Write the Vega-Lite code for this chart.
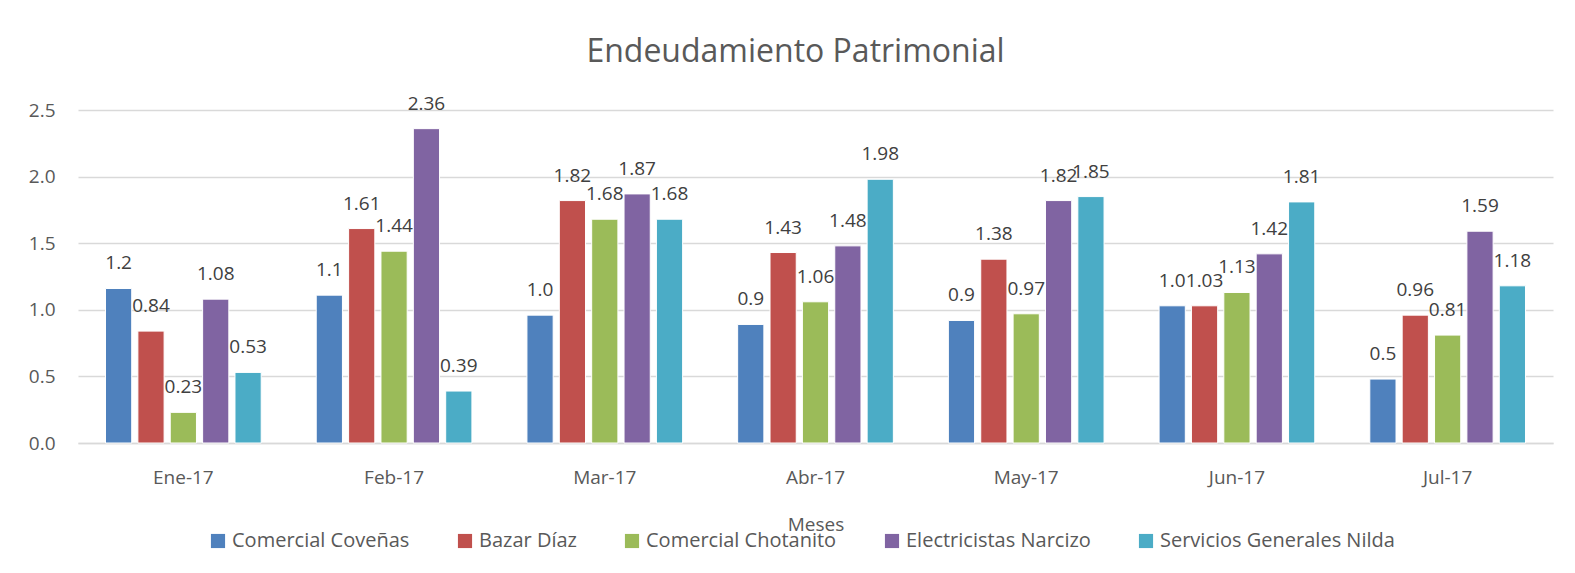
{
  "$schema": "https://vega.github.io/schema/vega-lite/v6.json",
  "width": 1475,
  "height": 333,
  "autosize": {"type": "none"},
  "padding": {"left": 78, "top": 110, "right": 22, "bottom": 130},
  "background": "white",
  "title": {"text": "Endeudamiento Patrimonial", "fontSize": 32, "font": "Open Sans", "fontWeight": "normal", "color": "#595959", "anchor": "middle", "offset": 26, "dx": -20},
  "data": {"values": [
    {"mes": "Ene-17", "empresa": "Comercial Coveñas", "valor": 1.16, "etiqueta": "1.2"},
    {"mes": "Ene-17", "empresa": "Bazar Díaz", "valor": 0.84, "etiqueta": "0.84"},
    {"mes": "Ene-17", "empresa": "Comercial Chotanito", "valor": 0.23, "etiqueta": "0.23"},
    {"mes": "Ene-17", "empresa": "Electricistas Narcizo", "valor": 1.08, "etiqueta": "1.08"},
    {"mes": "Ene-17", "empresa": "Servicios Generales Nilda", "valor": 0.53, "etiqueta": "0.53"},
    {"mes": "Feb-17", "empresa": "Comercial Coveñas", "valor": 1.11, "etiqueta": "1.1"},
    {"mes": "Feb-17", "empresa": "Bazar Díaz", "valor": 1.61, "etiqueta": "1.61"},
    {"mes": "Feb-17", "empresa": "Comercial Chotanito", "valor": 1.44, "etiqueta": "1.44"},
    {"mes": "Feb-17", "empresa": "Electricistas Narcizo", "valor": 2.36, "etiqueta": "2.36"},
    {"mes": "Feb-17", "empresa": "Servicios Generales Nilda", "valor": 0.39, "etiqueta": "0.39"},
    {"mes": "Mar-17", "empresa": "Comercial Coveñas", "valor": 0.96, "etiqueta": "1.0"},
    {"mes": "Mar-17", "empresa": "Bazar Díaz", "valor": 1.82, "etiqueta": "1.82"},
    {"mes": "Mar-17", "empresa": "Comercial Chotanito", "valor": 1.68, "etiqueta": "1.68"},
    {"mes": "Mar-17", "empresa": "Electricistas Narcizo", "valor": 1.87, "etiqueta": "1.87"},
    {"mes": "Mar-17", "empresa": "Servicios Generales Nilda", "valor": 1.68, "etiqueta": "1.68"},
    {"mes": "Abr-17", "empresa": "Comercial Coveñas", "valor": 0.89, "etiqueta": "0.9"},
    {"mes": "Abr-17", "empresa": "Bazar Díaz", "valor": 1.43, "etiqueta": "1.43"},
    {"mes": "Abr-17", "empresa": "Comercial Chotanito", "valor": 1.06, "etiqueta": "1.06"},
    {"mes": "Abr-17", "empresa": "Electricistas Narcizo", "valor": 1.48, "etiqueta": "1.48"},
    {"mes": "Abr-17", "empresa": "Servicios Generales Nilda", "valor": 1.98, "etiqueta": "1.98"},
    {"mes": "May-17", "empresa": "Comercial Coveñas", "valor": 0.92, "etiqueta": "0.9"},
    {"mes": "May-17", "empresa": "Bazar Díaz", "valor": 1.38, "etiqueta": "1.38"},
    {"mes": "May-17", "empresa": "Comercial Chotanito", "valor": 0.97, "etiqueta": "0.97"},
    {"mes": "May-17", "empresa": "Electricistas Narcizo", "valor": 1.82, "etiqueta": "1.82"},
    {"mes": "May-17", "empresa": "Servicios Generales Nilda", "valor": 1.85, "etiqueta": "1.85"},
    {"mes": "Jun-17", "empresa": "Comercial Coveñas", "valor": 1.03, "etiqueta": "1.0"},
    {"mes": "Jun-17", "empresa": "Bazar Díaz", "valor": 1.03, "etiqueta": "1.03"},
    {"mes": "Jun-17", "empresa": "Comercial Chotanito", "valor": 1.13, "etiqueta": "1.13"},
    {"mes": "Jun-17", "empresa": "Electricistas Narcizo", "valor": 1.42, "etiqueta": "1.42"},
    {"mes": "Jun-17", "empresa": "Servicios Generales Nilda", "valor": 1.81, "etiqueta": "1.81"},
    {"mes": "Jul-17", "empresa": "Comercial Coveñas", "valor": 0.48, "etiqueta": "0.5"},
    {"mes": "Jul-17", "empresa": "Bazar Díaz", "valor": 0.96, "etiqueta": "0.96"},
    {"mes": "Jul-17", "empresa": "Comercial Chotanito", "valor": 0.81, "etiqueta": "0.81"},
    {"mes": "Jul-17", "empresa": "Electricistas Narcizo", "valor": 1.59, "etiqueta": "1.59"},
    {"mes": "Jul-17", "empresa": "Servicios Generales Nilda", "valor": 1.18, "etiqueta": "1.18"}
  ]},
  "encoding": {
    "x": {"field": "mes", "type": "nominal", "sort": null,
      "scale": {"paddingInner": 0, "paddingOuter": 0},
      "axis": {"title": "Meses", "labelAngle": 0, "labelFontSize": 19, "labelFont": "Open Sans", "labelColor": "#595959", "labelPadding": 25, "ticks": false, "domainColor": "#d9d9d9", "domainWidth": 1.5, "titleFontSize": 19, "titleFont": "Open Sans", "titleFontWeight": "normal", "titleColor": "#595959", "titlePadding": 28}},
    "xOffset": {"field": "empresa", "type": "nominal", "sort": null,
      "scale": {"paddingInner": 0.19, "paddingOuter": 0.85}},
    "y": {"field": "valor", "type": "quantitative",
      "scale": {"domain": [0, 2.5], "nice": false},
      "axis": {"title": null, "values": [0, 0.5, 1, 1.5, 2, 2.5], "format": ".1f", "labelFontSize": 19, "labelFont": "Open Sans", "labelColor": "#595959", "labelPadding": 23, "ticks": false, "domain": false, "gridColor": "#d9d9d9", "gridWidth": 1.5}}
  },
  "layer": [
    {"mark": {"type": "bar", "stroke": "white", "strokeWidth": 1},
     "encoding": {
       "color": {"field": "empresa", "type": "nominal", "sort": null,
         "scale": {"domain": ["Comercial Coveñas", "Bazar Díaz", "Comercial Chotanito", "Electricistas Narcizo", "Servicios Generales Nilda"],
                   "range": ["#4F81BD", "#C0504D", "#9BBB59", "#8064A2", "#4BACC6"]},
         "legend": {"title": null, "orient": "none", "legendX": 130, "legendY": 421, "direction": "horizontal", "columns": 5, "columnPadding": 45, "symbolType": "square", "symbolSize": 200, "symbolStrokeWidth": 0, "labelFontSize": 20, "labelFont": "Open Sans", "labelColor": "#595959", "labelOffset": 4, "labelLimit": 0}}
     }},
    {"mark": {"type": "text", "fontSize": 19, "font": "Open Sans", "color": "#404040", "baseline": "middle", "dy": -25},
     "encoding": {"text": {"field": "etiqueta", "type": "nominal"}}}
  ],
  "config": {"view": {"stroke": null}}
}
